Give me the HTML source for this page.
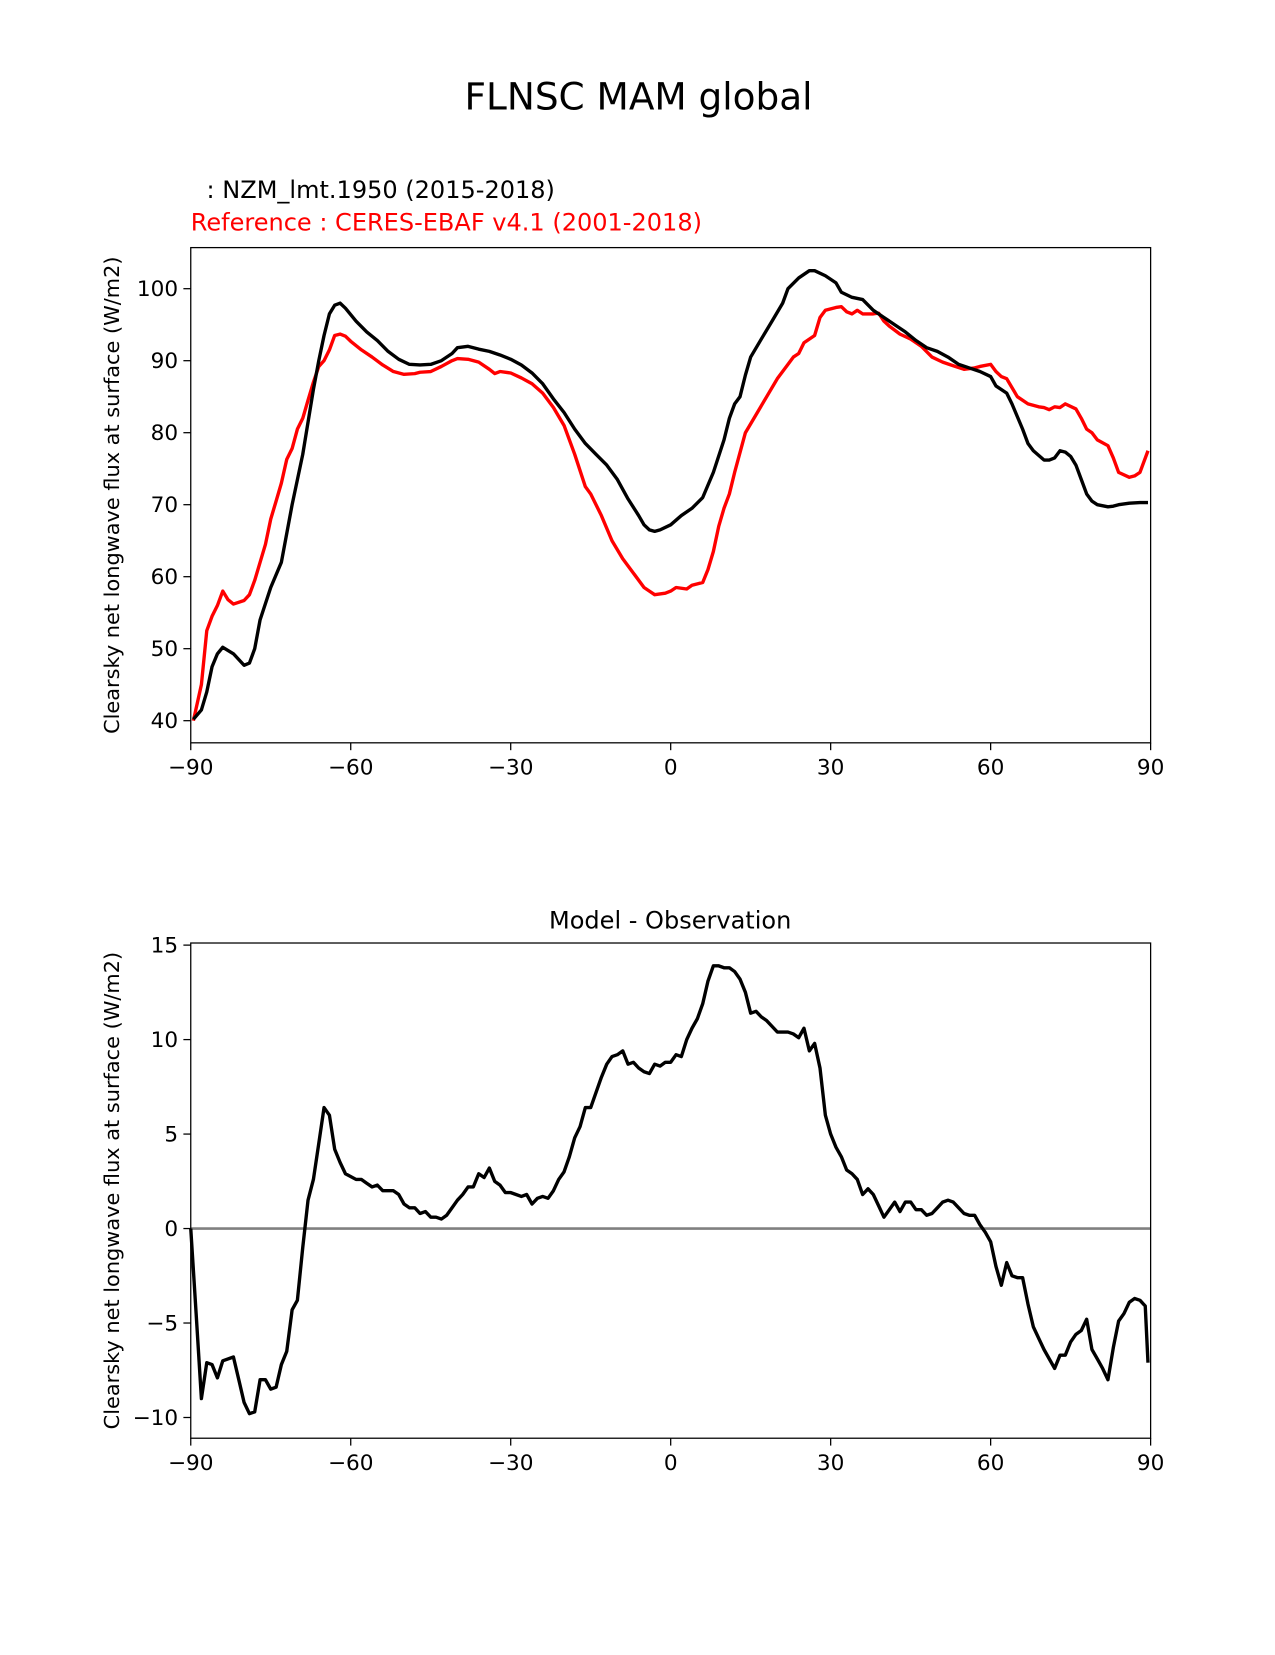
<!DOCTYPE html>
<html><head><meta charset="utf-8"><style>
body{margin:0;background:#fff}
svg text{font-family:"DejaVu Sans","Liberation Sans",sans-serif;fill:#000}
</style></head><body>
<svg id="fig" width="1275" height="1650" viewBox="0 0 1210 1566" xmlns="http://www.w3.org/2000/svg">
<rect width="1210" height="1566" fill="#fff"/>
<text x="606" y="104" font-size="35.5" text-anchor="middle">FLNSC MAM global</text>
<text x="196" y="188" font-size="22.8">: NZM_lmt.1950 (2015-2018)</text>
<text x="181" y="219" font-size="22.8" style="fill:#ff0000">Reference : CERES-EBAF v4.1 (2001-2018)</text>
<text x="636" y="881" font-size="22.8" text-anchor="middle">Model - Observation</text>
<g id="topChart"></g>
<g id="botChart"></g>
</svg>
<script>
const latM=[-89.5,-88,-87,-86,-85,-84,-82,-80,-79,-78,-77,-75,-73,-71,-69,-67,-66,-65,-64,-63,-62,-61,-59,-57,-55,-53,-51,-49,-47,-45,-43,-41,-40,-38,-36,-34,-32,-30,-28,-26,-24,-22,-20,-18,-16,-14,-12,-10,-8,-6,-5,-4,-3,-2,0,2,4,6,8,10,11,12,13,14,15,17,19,21,22,24,26,27,29,31,32,34,36,38,40,42,44,46,48,50,52,54,56,58,60,61,63,64,66,67,68,70,71,72,73,74,75,76,77,78,79,80,82,83,84,86,88,89.5];
const valM=[40.2,41.5,44,47.5,49.3,50.2,49.3,47.7,48,50,54,58.5,62,70,77,86,90,93.5,96.5,97.7,98,97.3,95.5,94,92.8,91.3,90.2,89.5,89.4,89.5,90,91,91.8,92,91.6,91.3,90.8,90.2,89.4,88.3,86.8,84.7,82.8,80.5,78.5,77,75.5,73.5,70.8,68.5,67.2,66.5,66.3,66.5,67.2,68.5,69.5,71,74.5,79,82,84,85,88,90.5,93,95.5,98,100,101.5,102.5,102.5,101.8,100.8,99.5,98.8,98.5,97,96,95,94,92.8,91.8,91.3,90.5,89.5,89,88.5,87.8,86.5,85.5,84,80.5,78.5,77.5,76.2,76.2,76.5,77.5,77.3,76.7,75.5,73.5,71.5,70.5,70,69.7,69.8,70,70.2,70.3,70.3];
const latO=[-89.5,-88,-87,-86,-85,-84,-83,-82,-80,-79,-78,-77,-76,-75,-74,-73,-72,-71,-70,-69,-68,-67,-66,-65,-64,-63,-62,-61,-60,-58,-56,-54,-52,-50,-48,-47,-45,-43,-41,-40,-38,-36,-34,-33,-32,-30,-28,-26,-24,-22,-20,-18,-16,-15,-13,-11,-9,-7,-5,-4,-3,-1,0,1,3,4,6,7,8,9,10,11,12,14,16,18,20,22,23,24,25,27,28,29,31,32,33,34,35,36,38,39,40,41,43,45,47,49,51,53,55,57,58,60,61,62,63,65,67,69,70,71,72,73,74,76,77,78,79,80,82,83,84,86,87,88,89.5];
const valO=[40,45,52.5,54.5,56,58,56.8,56.2,56.7,57.5,59.5,62,64.5,68,70.5,73,76.3,77.8,80.5,82,84.5,87,89.2,90,91.5,93.5,93.7,93.4,92.7,91.5,90.5,89.4,88.5,88.1,88.2,88.4,88.5,89.2,90,90.3,90.2,89.8,88.8,88.2,88.5,88.3,87.6,86.8,85.5,83.5,81,77,72.5,71.5,68.5,65,62.5,60.5,58.5,58,57.5,57.7,58,58.5,58.3,58.8,59.2,61,63.5,67,69.5,71.5,74.5,80,82.5,85,87.5,89.5,90.5,91,92.5,93.5,96,97,97.4,97.5,96.8,96.5,97,96.5,96.5,96.6,95.5,94.8,93.7,93,92,90.5,89.8,89.3,88.8,89,89.2,89.5,88.5,87.8,87.5,85,84,83.6,83.5,83.2,83.6,83.5,84,83.3,82,80.5,80,79,78.2,76.5,74.5,73.8,74,74.5,77.5];
const latD=[-90,-89,-88,-87,-86,-85,-84,-82,-81,-80,-79,-78,-77,-76,-75,-74,-73,-72,-71,-70,-69,-68,-67,-66,-65,-64,-63,-62,-61,-59,-58,-57,-56,-55,-54,-53,-52,-51,-50,-49,-48,-47,-46,-45,-44,-43,-42,-41,-40,-39,-38,-37,-36,-35,-34,-33,-32,-31,-30,-29,-28,-27,-26,-25,-24,-23,-22,-21,-20,-19,-18,-17,-16,-15,-14,-13,-12,-11,-10,-9,-8,-7,-6,-5,-4,-3,-2,-1,0,1,2,3,4,5,6,7,8,9,10,11,12,13,14,15,16,17,18,19,20,22,23,24,25,26,27,28,29,30,31,32,33,34,35,36,37,38,39,40,41,42,43,44,45,46,47,48,49,50,51,52,53,54,55,56,57,58,59,60,61,62,63,64,65,66,67,68,69,70,71,72,73,74,75,76,77,78,79,80,81,82,83,84,85,86,87,88,89,89.5];
const valD=[0,-4.5,-9,-7.1,-7.2,-7.9,-7,-6.8,-8,-9.2,-9.8,-9.7,-8,-8,-8.5,-8.4,-7.2,-6.5,-4.3,-3.8,-1,1.5,2.6,4.5,6.4,6,4.2,3.5,2.9,2.6,2.6,2.4,2.2,2.3,2,2,2,1.8,1.3,1.1,1.1,0.8,0.9,0.6,0.6,0.5,0.7,1.1,1.5,1.8,2.2,2.2,2.9,2.7,3.2,2.5,2.3,1.9,1.9,1.8,1.7,1.8,1.3,1.6,1.7,1.6,2,2.6,3,3.8,4.8,5.4,6.4,6.4,7.2,8,8.7,9.1,9.2,9.4,8.7,8.8,8.5,8.3,8.2,8.7,8.6,8.8,8.8,9.2,9.1,10,10.6,11.1,11.9,13.1,13.9,13.9,13.8,13.8,13.6,13.2,12.5,11.4,11.5,11.2,11,10.7,10.4,10.4,10.3,10.1,10.6,9.4,9.8,8.5,6,5,4.3,3.8,3.1,2.9,2.6,1.8,2.1,1.8,1.2,0.6,1,1.4,0.9,1.4,1.4,1,1,0.7,0.8,1.1,1.4,1.5,1.4,1.1,0.8,0.7,0.7,0.2,-0.2,-0.7,-2,-3,-1.8,-2.5,-2.6,-2.6,-4,-5.2,-5.8,-6.4,-6.9,-7.4,-6.7,-6.7,-6,-5.6,-5.4,-4.8,-6.4,-6.9,-7.4,-8,-6.3,-4.9,-4.5,-3.9,-3.7,-3.8,-4.1,-7.1];
const xTicks=[-90,-60,-30,0,30,60,90];
const xTickLabels=["\u221290","\u221260","\u221230","0","30","60","90"];
const topYTicks=[40,50,60,70,80,90,100];
const botYTicks=[-10,-5,0,5,10,15];
const botYTickLabels=["\u221210","\u22125","0","5","10","15"];

const NS="http://www.w3.org/2000/svg";
const X0=181,X1=1092;
const xs=v=>X0+(v+90)/180*(X1-X0);
const topY=v=>684-(v-40)*(410/60);
const botY=v=>1166-v*(1166-897)/15;
function mk(p,tag,a){const e=document.createElementNS(NS,tag);for(const k in a)e.setAttribute(k,a[k]);p.appendChild(e);return e;}
function axes(g,y0,y1,ys,yt,ytl,ylabelY){
  for(let i=0;i<xTicks.length;i++){
    const x=xs(xTicks[i]);
    const t=mk(g,'line',{x1:x,x2:x,y1:y1,y2:y1+7,stroke:'#000','stroke-width':1.2});
    
    
    const l=mk(g,'text',{x:x,y:y1+30,'font-size':20.5,'text-anchor':'middle'});l.textContent=xTickLabels[i];
    
    
  }
  for(let i=0;i<yt.length;i++){
    const y=ys(yt[i]);
    const t=mk(g,'line',{x1:X0-7,x2:X0,y1:y,y2:y,stroke:'#000','stroke-width':1.2});
    
    
    const l=mk(g,'text',{x:X0-12,y:y+7,'font-size':20.5,'text-anchor':'end'});l.textContent=ytl[i];
    
    
  }
  const yl=mk(g,'text',{x:0,y:0,'font-size':19.8,'text-anchor':'middle',transform:`translate(113,${ylabelY}) rotate(-90)`});
  yl.textContent='Clearsky net longwave flux at surface (W/m2)';
  
  
}
function drawLine(g,lat,val,ys,color,name){
  const d=lat.map((v,i)=>(i?'L':'M')+xs(v).toFixed(1)+','+ys(val[i]).toFixed(1)).join('');
  const p=mk(g,'path',{d:d,fill:'none',stroke:color,'stroke-width':3.2,'stroke-linejoin':'round'});
  
  
}
const gTop=document.getElementById('topChart');
drawLine(gTop,latO,valO,topY,'#ff0000','reference-line');
drawLine(gTop,latM,valM,topY,'#000','model-line');
const f1=mk(gTop,'rect',{x:X0,y:235,width:X1-X0,height:470,fill:'none',stroke:'#000','stroke-width':1.2});


axes(gTop,235,705,topY,topYTicks,topYTicks.map(String),470);
const gBot=document.getElementById('botChart');
const z=mk(gBot,'line',{x1:X0,x2:X1,y1:botY(0),y2:botY(0),stroke:'#808080','stroke-width':2.5});


drawLine(gBot,latD,valD,botY,'#000','difference-line');
const f2=mk(gBot,'rect',{x:X0,y:895,width:X1-X0,height:470,fill:'none',stroke:'#000','stroke-width':1.2});


axes(gBot,895,1365,botY,botYTicks,botYTickLabels,1130);
</script>
</body></html>
